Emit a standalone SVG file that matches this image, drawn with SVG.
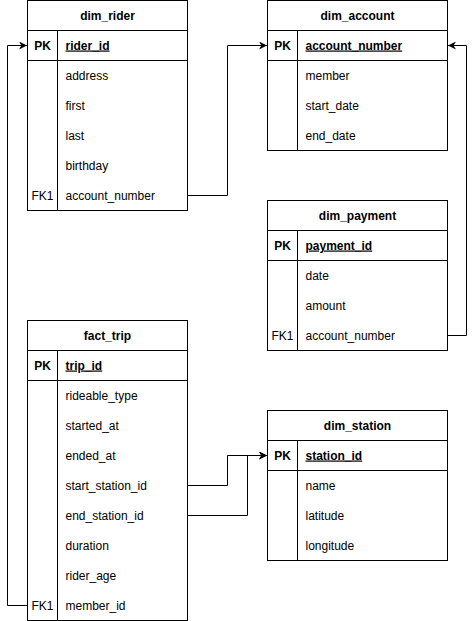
<svg xmlns="http://www.w3.org/2000/svg" width="476" height="621" viewBox="0 0 476 621">
  <style>
    .box { fill: #ffffff; stroke: #000000; stroke-width: 1; }
    .line { stroke: #000000; stroke-width: 1; fill: none; }
    text { font-family: "Liberation Sans", Arial, sans-serif; font-size: 12px; fill: #000000; }
    .title { font-weight: bold; text-anchor: middle; }
    .key { text-anchor: middle; }
    .pk { font-weight: bold; }
    .pkname { font-weight: bold; text-decoration: underline; }
    .conn { stroke: #000000; stroke-width: 1; fill: none; }
  </style>
  <defs>
    <marker id="arrow" viewBox="0 0 10 10" refX="10" refY="5" markerWidth="8" markerHeight="8" markerUnits="userSpaceOnUse" orient="auto">
      <path d="M0,0 L10,5 L0,10 L3,5 Z" fill="#000000"/>
    </marker>
  </defs>
  <rect width="476" height="621" fill="#ffffff"/>

  <!-- dim_rider -->
  <g id="dim_rider">
    <rect class="box" x="27.5" y="0.5" width="160" height="210"/>
    <line class="line" x1="27.5" y1="30.5" x2="187.5" y2="30.5"/>
    <line class="line" x1="27.5" y1="60.5" x2="187.5" y2="60.5"/>
    <line class="line" x1="57.5" y1="30.5" x2="57.5" y2="210.5"/>
    <text class="title" x="107.5" y="19.5">dim_rider</text>
    <text class="key pk" x="42.5" y="49.5">PK</text>
    <text class="pkname" x="65.5" y="49.5">rider_id</text>
    <text x="65.5" y="79.5">address</text>
    <text x="65.5" y="109.5">first</text>
    <text x="65.5" y="139.5">last</text>
    <text x="65.5" y="169.5">birthday</text>
    <text class="key" x="42.5" y="199.5">FK1</text>
    <text x="65.5" y="199.5">account_number</text>
  </g>

  <!-- dim_account -->
  <g id="dim_account">
    <rect class="box" x="267.5" y="0.5" width="180" height="150"/>
    <line class="line" x1="267.5" y1="30.5" x2="447.5" y2="30.5"/>
    <line class="line" x1="267.5" y1="60.5" x2="447.5" y2="60.5"/>
    <line class="line" x1="297.5" y1="30.5" x2="297.5" y2="150.5"/>
    <text class="title" x="357.5" y="19.5">dim_account</text>
    <text class="key pk" x="282.5" y="49.5">PK</text>
    <text class="pkname" x="305.5" y="49.5">account_number</text>
    <text x="305.5" y="79.5">member</text>
    <text x="305.5" y="109.5">start_date</text>
    <text x="305.5" y="139.5">end_date</text>
  </g>

  <!-- dim_payment -->
  <g id="dim_payment">
    <rect class="box" x="267.5" y="200.5" width="180" height="150"/>
    <line class="line" x1="267.5" y1="230.5" x2="447.5" y2="230.5"/>
    <line class="line" x1="267.5" y1="260.5" x2="447.5" y2="260.5"/>
    <line class="line" x1="297.5" y1="230.5" x2="297.5" y2="350.5"/>
    <text class="title" x="357.5" y="219.5">dim_payment</text>
    <text class="key pk" x="282.5" y="249.5">PK</text>
    <text class="pkname" x="305.5" y="249.5">payment_id</text>
    <text x="305.5" y="279.5">date</text>
    <text x="305.5" y="309.5">amount</text>
    <text class="key" x="282.5" y="339.5">FK1</text>
    <text x="305.5" y="339.5">account_number</text>
  </g>

  <!-- fact_trip -->
  <g id="fact_trip">
    <rect class="box" x="27.5" y="320.5" width="160" height="300"/>
    <line class="line" x1="27.5" y1="350.5" x2="187.5" y2="350.5"/>
    <line class="line" x1="27.5" y1="380.5" x2="187.5" y2="380.5"/>
    <line class="line" x1="57.5" y1="350.5" x2="57.5" y2="620.5"/>
    <text class="title" x="107.5" y="339.5">fact_trip</text>
    <text class="key pk" x="42.5" y="369.5">PK</text>
    <text class="pkname" x="65.5" y="369.5">trip_id</text>
    <text x="65.5" y="399.5">rideable_type</text>
    <text x="65.5" y="429.5">started_at</text>
    <text x="65.5" y="459.5">ended_at</text>
    <text x="65.5" y="489.5">start_station_id</text>
    <text x="65.5" y="519.5">end_station_id</text>
    <text x="65.5" y="549.5">duration</text>
    <text x="65.5" y="579.5">rider_age</text>
    <text class="key" x="42.5" y="609.5">FK1</text>
    <text x="65.5" y="609.5">member_id</text>
  </g>

  <!-- dim_station -->
  <g id="dim_station">
    <rect class="box" x="267.5" y="410.5" width="180" height="150"/>
    <line class="line" x1="267.5" y1="440.5" x2="447.5" y2="440.5"/>
    <line class="line" x1="267.5" y1="470.5" x2="447.5" y2="470.5"/>
    <line class="line" x1="297.5" y1="440.5" x2="297.5" y2="560.5"/>
    <text class="title" x="357.5" y="429.5">dim_station</text>
    <text class="key pk" x="282.5" y="459.5">PK</text>
    <text class="pkname" x="305.5" y="459.5">station_id</text>
    <text x="305.5" y="489.5">name</text>
    <text x="305.5" y="519.5">latitude</text>
    <text x="305.5" y="549.5">longitude</text>
  </g>

  <!-- relationships -->
  <g id="connectors">
    <path class="conn" d="M187.5,195.5 H227.5 V45.5 H267" marker-end="url(#arrow)"/>
    <path class="conn" d="M447.5,335.5 H466.5 V45.5 H448" marker-end="url(#arrow)"/>
    <path class="conn" d="M27.5,605.5 H7.5 V45.5 H27" marker-end="url(#arrow)"/>
    <path class="conn" d="M187.5,485.5 H227.5 V455.5 H267" marker-end="url(#arrow)"/>
    <path class="conn" d="M187.5,515.5 H247.5 V455.5 H267" marker-end="url(#arrow)"/>
  </g>
</svg>
